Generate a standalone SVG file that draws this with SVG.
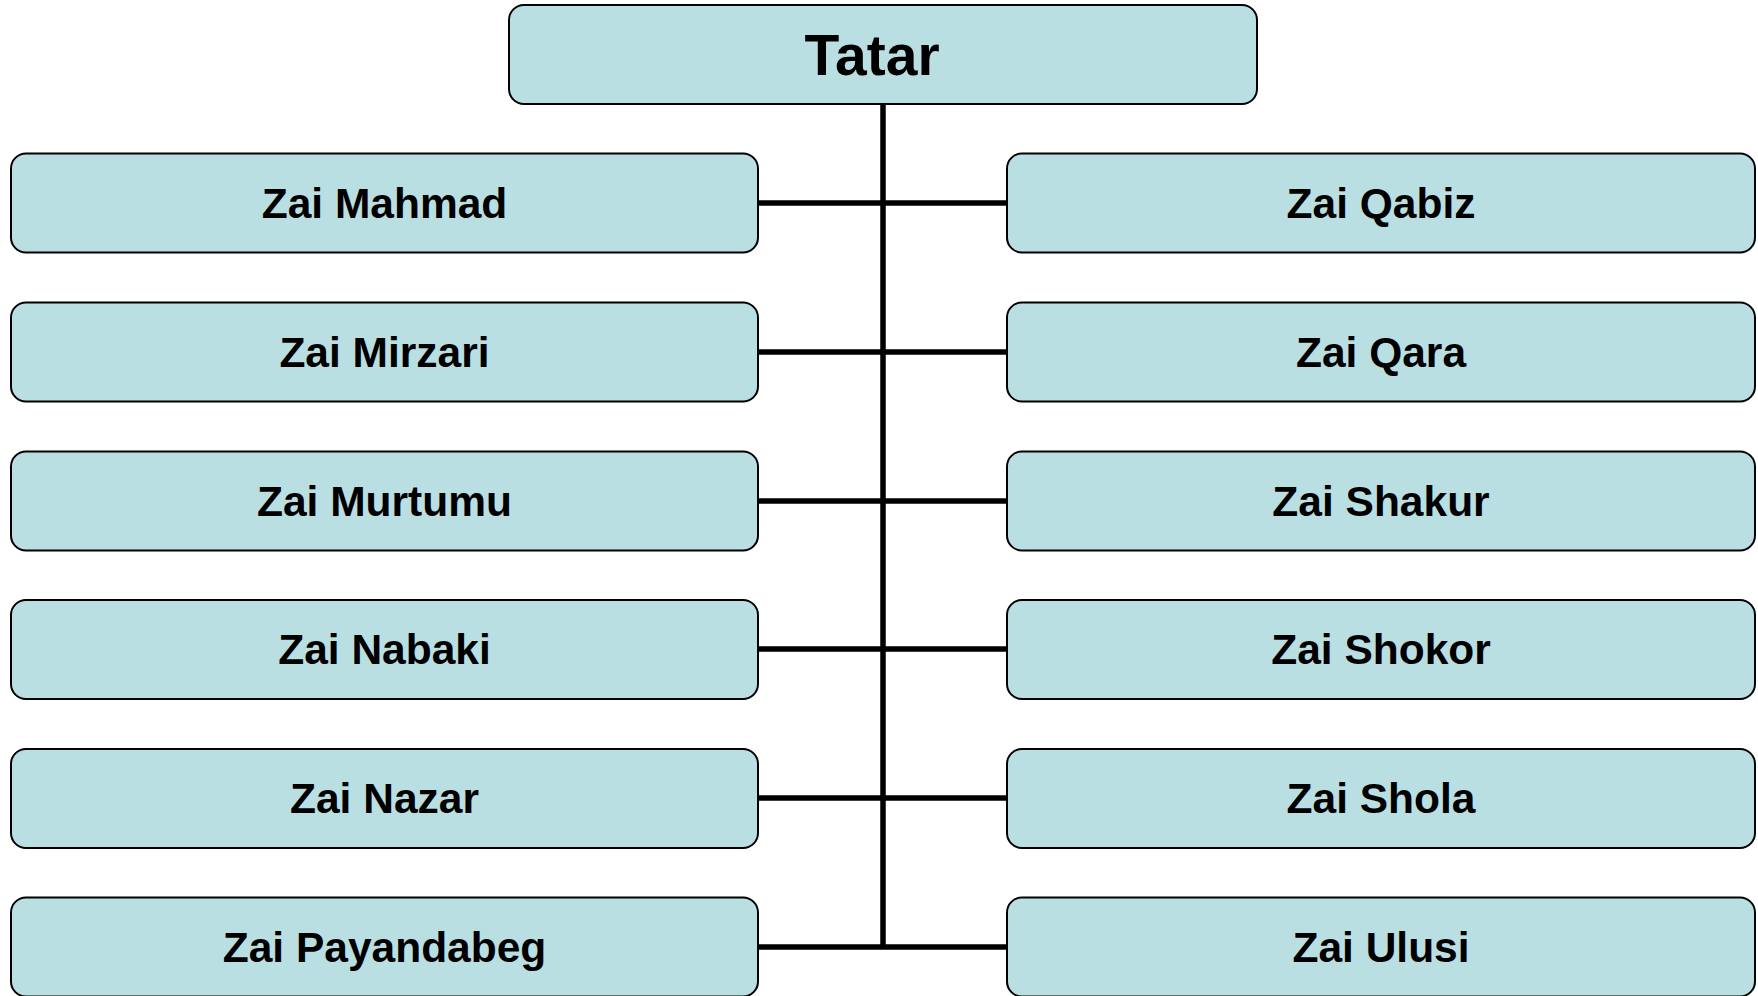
<svg xmlns="http://www.w3.org/2000/svg" width="1758" height="996" viewBox="0 0 1758 996">
<style>
.box{fill:#BADFE3;stroke:#000;stroke-width:2}
.lbl{font-family:"Liberation Sans",Arial,sans-serif;font-weight:bold;font-size:42.5px;fill:#000;text-anchor:middle}
.root{font-size:57px}
.ln{stroke:#000;stroke-width:5.5;fill:none}
</style>
<rect width="1758" height="996" fill="#fff"/>
<g id="connectors">
<line class="ln" x1="883" y1="104" x2="883" y2="949"/>
<line class="ln" x1="758" y1="203" x2="1007" y2="203"/>
<line class="ln" x1="758" y1="352" x2="1007" y2="352"/>
<line class="ln" x1="758" y1="501" x2="1007" y2="501"/>
<line class="ln" x1="758" y1="649" x2="1007" y2="649"/>
<line class="ln" x1="758" y1="798" x2="1007" y2="798"/>
<line class="ln" x1="758" y1="947" x2="1007" y2="947"/>
</g>
<g id="tatar"><rect class="box" x="509" y="5" width="748" height="99" rx="15"/><text class="lbl root" x="872" y="75">Tatar</text></g>
<g id="zai-mahmad"><rect class="box" x="11" y="153.5" width="747" height="99" rx="15"/><text class="lbl" x="384.5" y="218">Zai Mahmad</text></g>
<g id="zai-mirzari"><rect class="box" x="11" y="302.5" width="747" height="99" rx="15"/><text class="lbl" x="384.5" y="367">Zai Mirzari</text></g>
<g id="zai-murtumu"><rect class="box" x="11" y="451.5" width="747" height="99" rx="15"/><text class="lbl" x="384.5" y="516">Zai Murtumu</text></g>
<g id="zai-nabaki"><rect class="box" x="11" y="600" width="747" height="99" rx="15"/><text class="lbl" x="384.5" y="664">Zai Nabaki</text></g>
<g id="zai-nazar"><rect class="box" x="11" y="749" width="747" height="99" rx="15"/><text class="lbl" x="384.5" y="813">Zai Nazar</text></g>
<g id="zai-payandabeg"><rect class="box" x="11" y="897.5" width="747" height="99" rx="15"/><text class="lbl" x="384.5" y="962">Zai Payandabeg</text></g>
<g id="zai-qabiz"><rect class="box" x="1007" y="153.5" width="748" height="99" rx="15"/><text class="lbl" x="1381" y="218">Zai Qabiz</text></g>
<g id="zai-qara"><rect class="box" x="1007" y="302.5" width="748" height="99" rx="15"/><text class="lbl" x="1381" y="367">Zai Qara</text></g>
<g id="zai-shakur"><rect class="box" x="1007" y="451.5" width="748" height="99" rx="15"/><text class="lbl" x="1381" y="516">Zai Shakur</text></g>
<g id="zai-shokor"><rect class="box" x="1007" y="600" width="748" height="99" rx="15"/><text class="lbl" x="1381" y="664">Zai Shokor</text></g>
<g id="zai-shola"><rect class="box" x="1007" y="749" width="748" height="99" rx="15"/><text class="lbl" x="1381" y="813">Zai Shola</text></g>
<g id="zai-ulusi"><rect class="box" x="1007" y="897.5" width="748" height="99" rx="15"/><text class="lbl" x="1381" y="962">Zai Ulusi</text></g>
</svg>
